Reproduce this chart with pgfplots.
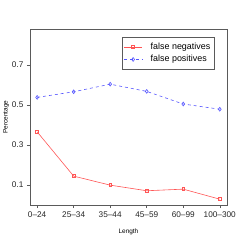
\documentclass[border=0pt]{standalone}
\usepackage{pgfplots}
\pgfplotsset{compat=1.18}
\usepackage{fontspec}
\setmainfont{Liberation Sans}
\definecolor{rred}{RGB}{255,85,85}
\definecolor{rblue}{RGB}{85,85,255}
\definecolor{axgray}{RGB}{90,90,90}
\begin{document}
\begin{tikzpicture}
\begin{axis}[
  scale only axis,
  width=198bp, height=177bp,
  xmin=-0.2, xmax=5.2,
  ymin=0.0, ymax=0.88,
  xtick={0,1,2,3,4,5},
  xticklabels={0\textendash24,25\textendash34,35\textendash44,45\textendash59,60\textendash99,100\textendash300},
  ytick={0.1,0.3,0.5,0.7},
  yticklabels={0.1,0.3,0.5,0.7},
  tick align=outside,
  xtick pos=bottom, ytick pos=left,
  major tick length=3bp,
  axis line style={axgray, line width=0.6pt},
  tick style={axgray, line width=0.5pt},
  every tick label/.append style={font=\fontsize{8.3}{9}\selectfont, text=black!85},
  /pgf/number format/assume math mode=true,
  xlabel={Length}, ylabel={Percentage},
  label style={font=\fontsize{6.5}{7}\selectfont},
  xlabel style={yshift=-5bp},
  ylabel style={yshift=-4bp},
  legend style={at={(rel axis cs:0.465,0.955)}, anchor=north west,
    font=\fontsize{9}{10}\selectfont, draw=axgray, line width=0.5pt,
    inner xsep=2bp, inner ysep=4.5bp, row sep=1.5bp,
    nodes={inner sep=1.5bp}},
  legend image code/.code={
    \draw[mark repeat=2,mark phase=2] plot coordinates {(0cm,0cm) (0.32cm,0cm) (0.64cm,0cm)};
    \path (0.88cm,0cm);},
  legend cell align=left,
]
\addplot[rred, line width=0.6pt, mark=square, mark size=1.4pt, mark options={solid}]
  coordinates {(0,0.366) (1,0.145) (2,0.100) (3,0.072) (4,0.080) (5,0.030)};
\addlegendentry{false negatives}
\addplot[rblue, dashed, line width=0.6pt, mark=diamond, mark size=1.9pt, mark options={solid}]
  coordinates {(0,0.538) (1,0.566) (2,0.604) (3,0.568) (4,0.505) (5,0.479)};
\addlegendentry{false positives}
\end{axis}
\path[use as bounding box] ([xshift=-29bp,yshift=-36bp]current axis.south west) rectangle ([xshift=15bp,yshift=29bp]current axis.north east);
\end{tikzpicture}
\end{document}
